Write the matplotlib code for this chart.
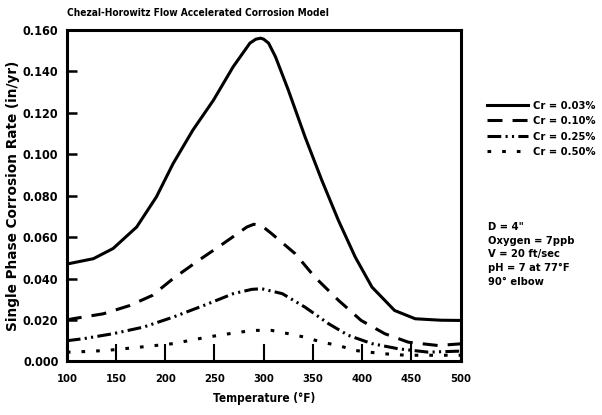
import matplotlib
matplotlib.use("Agg")
from matplotlib import pyplot as plt
from matplotlib import font_manager

# Cr = 0.03 %
t_003 = [100, 127, 147, 171, 191, 208, 228, 249, 269, 286, 292, 297, 300, 305, 312, 325, 342, 359, 376, 393, 410, 433, 454, 480, 500]
v_003 = [0.047, 0.0496, 0.0545, 0.0649, 0.0794, 0.0955, 0.1116, 0.1261, 0.1422, 0.1536, 0.1555, 0.156, 0.1555, 0.1536, 0.147, 0.131, 0.1084, 0.0875, 0.068, 0.0504, 0.0359, 0.0246, 0.0206, 0.0199, 0.0198]
# Cr = 0.10 %
t_010 = [100, 106, 137, 164, 187, 208, 234, 259, 283, 290, 298, 308, 332, 352, 376, 399, 423, 447, 477, 500]
v_010 = [0.020, 0.0206, 0.023, 0.027, 0.0319, 0.040, 0.0488, 0.0569, 0.0649, 0.0662, 0.0655, 0.0617, 0.052, 0.0407, 0.0295, 0.0198, 0.0134, 0.0093, 0.0077, 0.0085]
# Cr = 0.25 %
t_025 = [100, 117, 147, 178, 208, 239, 269, 288, 298, 319, 342, 366, 386, 410, 437, 467, 500]
v_025 = [0.010, 0.011, 0.0134, 0.0166, 0.0214, 0.027, 0.0327, 0.0348, 0.0351, 0.0327, 0.0262, 0.0182, 0.0126, 0.0086, 0.0061, 0.0045, 0.005]
# Cr = 0.50 %
t_050 = [100, 106, 140, 174, 208, 242, 276, 293, 308, 325, 342, 359, 376, 393, 420, 444, 470, 500]
v_050 = [0.0045, 0.0045, 0.0053, 0.0069, 0.0086, 0.0117, 0.0142, 0.015, 0.015, 0.0134, 0.0117, 0.0093, 0.0077, 0.0053, 0.0038, 0.003, 0.003, 0.003]

labels = ["Cr = 0.03%", "Cr = 0.10%", "Cr = 0.25%", "Cr = 0.50%"]
x_ticks = [100, 150, 200, 250, 300, 350, 400, 450, 500]
y_ticks = [0.000, 0.020, 0.040, 0.060, 0.080, 0.100, 0.120, 0.140, 0.160]
notes = ['D = 4"', "Oxygen = 7ppb", "V = 20 ft/sec", "pH = 7 at 77\u00b0F", "90\u00b0 elbow"]

# condensed face if there is one
names = {f.name for f in font_manager.fontManager.ttflist}
if "Liberation Sans Narrow" in names:
    narrow = dict(family="Liberation Sans Narrow")
else:
    narrow = dict(family="DejaVu Sans", stretch="condensed")

fig = plt.figure(figsize=(6.02, 4.15), dpi=100)
ax = fig.add_axes([0.111, 0.129, 0.654, 0.799])

lw = 2.2
ax.plot(t_003, v_003, color="k", lw=lw, label=labels[0])
ax.plot(t_010, v_010, color="k", lw=lw, dashes=(4.9, 3.3), label=labels[1])
ax.plot(t_025, v_025, color="k", lw=lw, dashes=(4.5, 1.4, 0.7, 1.4, 0.7, 1.4), label=labels[2])
ax.plot(t_050, v_050, color="k", lw=lw, dashes=(1.2, 3.6), label=labels[3])

ax.set_xlim(100, 500)
ax.set_ylim(0, 0.16)
ax.set_xticks(x_ticks)
ax.set_yticks(y_ticks)
ax.set_xticklabels([str(v) for v in x_ticks], fontweight="bold", fontsize=8, **narrow)
ax.set_yticklabels(["%.3f" % v for v in y_ticks], fontweight="bold", fontsize=9, **narrow)
ax.tick_params(axis="x", direction="in", length=12, width=1.5, pad=9)
ax.tick_params(axis="y", direction="in", length=7, width=1.8, pad=6)
for s in ax.spines.values():
    s.set_linewidth(2.2)

ax.set_xlabel("Temperature (\u00b0F)", fontweight="bold", fontsize=8.5, labelpad=6, **narrow)
ax.set_ylabel("Single Phase Corrosion Rate (in/yr)", fontweight="bold", fontsize=9.8, labelpad=2)
ax.set_title("Chezal-Horowitz Flow Accelerated Corrosion Model", fontweight="bold",
             fontsize=7.3, loc="left", pad=10, **narrow)

leg = ax.legend(loc="upper left", bbox_to_anchor=(1.055, 0.80), frameon=False,
                handlelength=3.7, handletextpad=0.45, labelspacing=0.5, borderaxespad=0,
                prop=dict(weight="bold", size=8, **narrow))

fig.text(0.81, 0.465, "\n".join(notes), fontweight="bold", fontsize=8,
         va="top", ha="left", linespacing=1.45, **narrow)

fig.savefig("out.png", dpi=100)
